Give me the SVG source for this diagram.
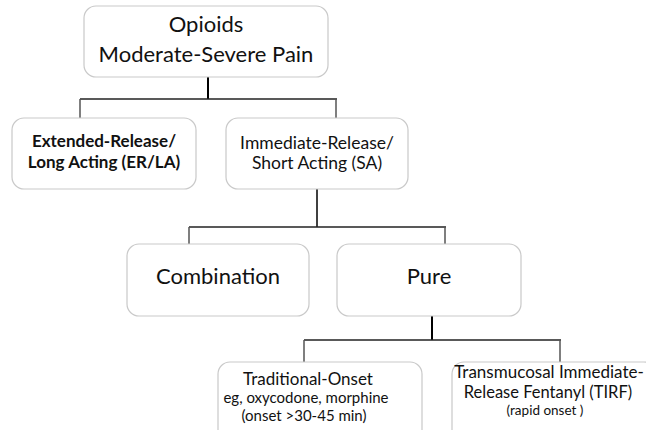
<svg xmlns="http://www.w3.org/2000/svg" width="646" height="430" viewBox="0 0 646 430">
<style>
.box{fill:#fff;stroke:#c9c9c9;stroke-width:1.2}
text{font-family:Lato,"Open Sans","Liberation Sans",sans-serif;fill:#111;text-anchor:middle}
.stem{stroke:#000;stroke-width:2;fill:none}
.bar{stroke:#222;stroke-width:1.5;fill:none}
.drop{stroke:#555;stroke-width:1.5;fill:none}
</style>
<rect width="646" height="430" fill="#fff"/>
<g id="connectors">
<line class="stem" x1="208" y1="77" x2="208" y2="99"/>
<line class="bar" x1="80" y1="99" x2="337" y2="99"/>
<line class="drop" x1="80" y1="99" x2="80" y2="118"/>
<line class="drop" x1="336" y1="99" x2="336" y2="118"/>
<line class="stem" x1="317" y1="189" x2="317" y2="227" style="stroke-width:1.5"/>
<line class="bar" x1="189" y1="227" x2="446" y2="227"/>
<line class="drop" x1="189" y1="227" x2="189" y2="244"/>
<line class="drop" x1="445" y1="227" x2="445" y2="244"/>
<line class="stem" x1="432" y1="316" x2="432" y2="340"/>
<line class="bar" x1="304" y1="340" x2="561" y2="340"/>
<line class="drop" x1="304" y1="340" x2="304" y2="362"/>
<line class="drop" x1="560" y1="340" x2="560" y2="362"/>
</g>
<g id="opioids">
<rect class="box" x="84" y="6" width="244" height="71" rx="12"/>
<text x="206" y="32" font-size="22">Opioids</text>
<text x="206" y="62" font-size="22">Moderate-Severe Pain</text>
</g>
<g id="er-la">
<rect class="box" x="12" y="118" width="184" height="71" rx="12"/>
<text x="104" y="147" font-size="17" font-weight="bold">Extended-Release/</text>
<text x="104" y="168" font-size="17" font-weight="bold">Long Acting (ER/LA)</text>
</g>
<g id="ir-sa">
<rect class="box" x="226" y="118" width="182" height="71" rx="12"/>
<text x="317" y="149" font-size="17.5">Immediate-Release/</text>
<text x="317" y="169" font-size="17.5">Short Acting (SA)</text>
</g>
<g id="combination">
<rect class="box" x="127" y="244" width="182" height="72" rx="12"/>
<text x="218" y="284" font-size="22">Combination</text>
</g>
<g id="pure">
<rect class="box" x="337" y="244" width="184" height="72" rx="12"/>
<text x="429" y="284" font-size="22">Pure</text>
</g>
<g id="traditional">
<rect class="box" x="218" y="362" width="204" height="80" rx="12"/>
<text x="308" y="385" font-size="17">Traditional-Onset</text>
<text x="306" y="403" font-size="15">eg, oxycodone, morphine</text>
<text x="304" y="421" font-size="15">(onset &gt;30-45 min)</text>
</g>
<g id="tirf">
<rect class="box" x="452" y="362" width="204" height="80" rx="12"/>
<text x="549" y="378" font-size="17">Transmucosal Immediate-</text>
<text x="548" y="398" font-size="16.5">Release Fentanyl (TIRF)</text>
<text x="545" y="415" font-size="13.5">(rapid onset )</text>
</g>
</svg>
